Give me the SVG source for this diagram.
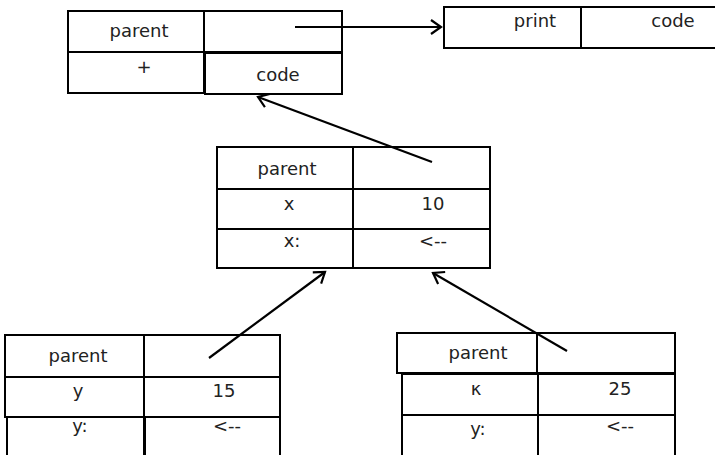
<svg xmlns="http://www.w3.org/2000/svg" width="715" height="455" viewBox="0 0 715 455">
<style>
.cell { fill: none; stroke: #000; stroke-width: 2; }
text { font-family: "DejaVu Sans", sans-serif; font-size: 18px; fill: #222; text-anchor: middle; }
.c { stroke: #000; stroke-width: 2.2; fill: none; }
</style>
<defs>
<marker id="ah" markerWidth="16" markerHeight="16" refX="11" refY="8" orient="auto" markerUnits="userSpaceOnUse">
<path d="M1,1 L11,8 L1,15" fill="none" stroke="#000" stroke-width="2.2"/>
</marker>
</defs>
<rect x="0" y="0" width="715" height="455" fill="#fff"/>
<g id="node-plus">
<rect class="cell" x="68" y="11" width="136" height="41"/>
<rect class="cell" x="204" y="11" width="138" height="41"/>
<rect class="cell" x="68" y="52" width="136" height="41"/>
<rect class="cell" x="205" y="53" width="137" height="41"/>
<text x="139" y="37">parent</text>
<text x="144" y="73">+</text>
<text x="278" y="81">code</text>
</g>
<g id="node-print">
<rect class="cell" x="444" y="7" width="137" height="41"/>
<rect class="cell" x="581" y="7" width="136" height="41"/>
<text x="535" y="27">print</text>
<text x="673" y="27">code</text>
</g>
<g id="node-x">
<rect class="cell" x="217" y="147" width="136" height="42"/>
<rect class="cell" x="353" y="147" width="137" height="42"/>
<rect class="cell" x="217" y="189" width="136" height="40"/>
<rect class="cell" x="353" y="189" width="137" height="40"/>
<rect class="cell" x="217" y="229" width="136" height="39"/>
<rect class="cell" x="353" y="229" width="137" height="39"/>
<text x="287" y="175">parent</text>
<text x="289" y="210">x</text>
<text x="433" y="210">10</text>
<text x="292" y="247">x:</text>
<text x="433" y="247">&lt;--</text>
</g>
<g id="node-y">
<rect class="cell" x="5" y="335" width="139" height="42"/>
<rect class="cell" x="144" y="335" width="136" height="42"/>
<rect class="cell" x="5" y="377" width="139" height="40"/>
<rect class="cell" x="144" y="377" width="136" height="40"/>
<rect class="cell" x="7" y="417" width="137" height="42"/>
<rect class="cell" x="145" y="417" width="135" height="42"/>
<text x="78" y="362">parent</text>
<text x="78" y="397">y</text>
<text x="224" y="397">15</text>
<text x="80" y="432">y:</text>
<text x="227" y="432">&lt;--</text>
</g>
<g id="node-k">
<rect class="cell" x="397" y="333" width="140" height="40"/>
<rect class="cell" x="537" y="333" width="138" height="40"/>
<rect class="cell" x="402" y="374" width="136" height="41"/>
<rect class="cell" x="538" y="374" width="137" height="41"/>
<rect class="cell" x="402" y="415" width="136" height="42"/>
<rect class="cell" x="538" y="415" width="137" height="42"/>
<text x="478" y="359">parent</text>
<text x="476" y="395">κ</text>
<text x="620" y="395">25</text>
<text x="478" y="435">y:</text>
<text x="620" y="432">&lt;--</text>
</g>
<g id="connectors">
<line class="c" x1="295" y1="27" x2="441" y2="27" marker-end="url(#ah)"/>
<line class="c" x1="432" y1="162" x2="258" y2="97" marker-end="url(#ah)"/>
<line class="c" x1="209" y1="358" x2="325" y2="272" marker-end="url(#ah)"/>
<line class="c" x1="567" y1="351" x2="433" y2="273" marker-end="url(#ah)"/>
</g>
</svg>
